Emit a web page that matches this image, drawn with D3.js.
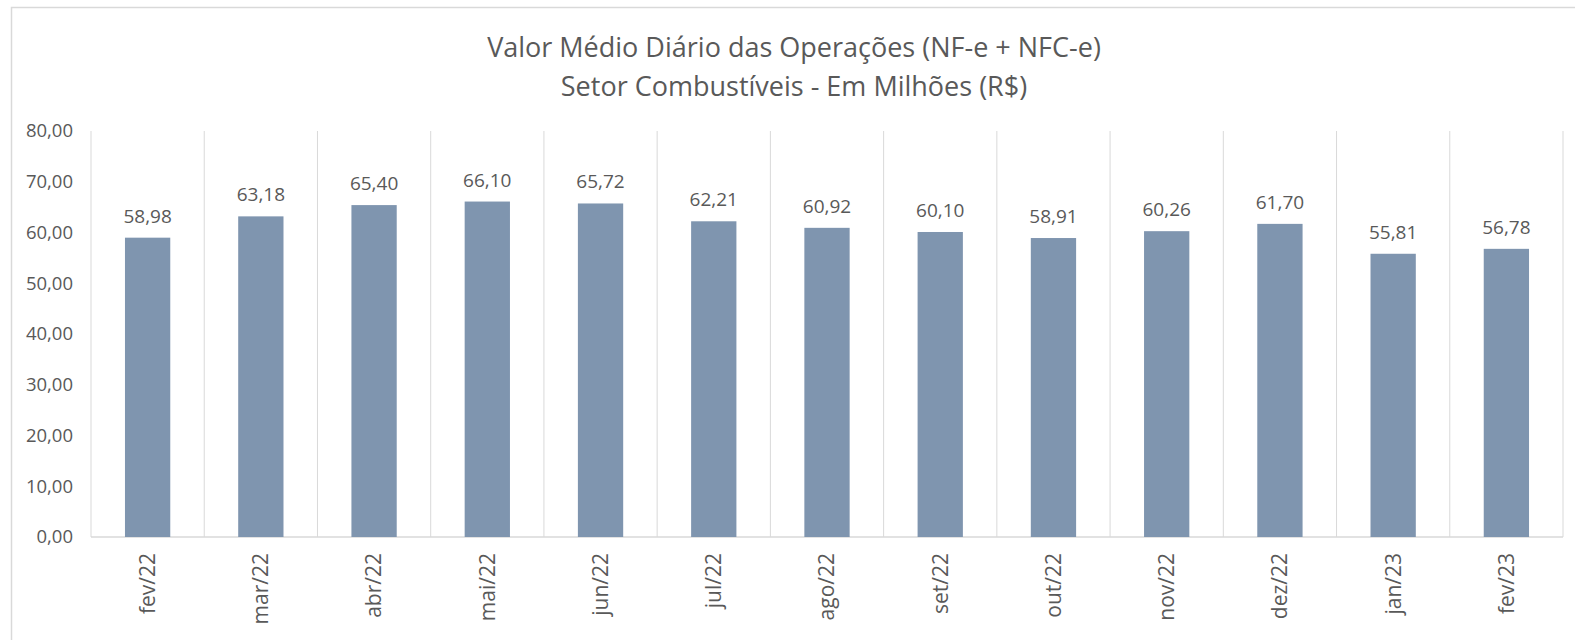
<!DOCTYPE html>
<html>
<head>
<meta charset="utf-8">
<script src="https://cdn.jsdelivr.net/npm/d3@7"></script>
<style>
  body { margin: 0; background: #fff; }
  text { font-family: "Open Sans", sans-serif; fill: #595959; }
</style>
</head>
<body>
<div id="chart"></div>
<script>
const months = ["fev/22", "mar/22", "abr/22", "mai/22", "jun/22", "jul/22", "ago/22",
                "set/22", "out/22", "nov/22", "dez/22", "jan/23", "fev/23"];
const values = [58.98, 63.18, 65.40, 66.10, 65.72, 62.21, 60.92, 60.10, 58.91, 60.26, 61.70, 55.81, 56.78];
const yTicks = [0, 10, 20, 30, 40, 50, 60, 70, 80];
const titleLines = ["Valor Médio Diário das Operações (NF-e + NFC-e)",
                    "Setor Combustíveis - Em Milhões (R$)"];

function init(){

    const width = 1575;
    const height = 640;
    const margin = {left: 91, right: 12, top: 131, bottom: 103};

    const svg = d3.select("#chart")
                .append("svg")
                .attr("width", width)
                .attr("height", height);

    //Outer chart border, runs off the right and bottom edges
    svg.append("rect")
        .attr("x", 11.5)
        .attr("y", 7.5)
        .attr("width", width)
        .attr("height", height)
        .attr("fill", "none")
        .attr("stroke", "#d9d9d9")
        .attr("stroke-width", 1.5);

    const x = d3.scaleBand()
                .domain(months)
                .range([margin.left, width - margin.right])
                .padding(0);

    const y = d3.scaleLinear()
                .domain([0, 80])
                .range([height - margin.bottom, margin.top]);

    const fmt = v => d3.format(".2f")(v).replace(".", ",");

    //Title
    svg.append("text")
        .attr("x", 794)
        .attr("y", 57)
        .attr("text-anchor", "middle")
        .attr("font-size", "27px")
        .selectAll("tspan")
        .data(titleLines)
        .enter().append("tspan")
        .attr("x", 794)
        .attr("dy", (d, i) => i === 0 ? 0 : 39)
        .text(d => d);

    //Vertical separators between categories
    const seps = months.map(m => x(m)).concat([x.range()[1]]);
    svg.selectAll(".sep")
        .data(seps)
        .enter().append("line")
        .attr("class", "sep")
        .attr("x1", d => d)
        .attr("x2", d => d)
        .attr("y1", y(80))
        .attr("y2", y(0))
        .attr("stroke", "#d9d9d9")
        .attr("stroke-width", 1);

    //Baseline
    svg.append("line")
        .attr("x1", x.range()[0])
        .attr("x2", x.range()[1])
        .attr("y1", y(0))
        .attr("y2", y(0))
        .attr("stroke", "#d9d9d9")
        .attr("stroke-width", 1.5);

    //Y axis labels
    const yAxis = d3.axisLeft(y)
                    .tickValues(yTicks)
                    .tickSize(0)
                    .tickPadding(18)
                    .tickFormat(fmt);

    const gy = svg.append("g")
        .attr("transform", `translate(${margin.left},0)`)
        .call(yAxis);
    gy.select(".domain").remove();
    gy.selectAll("text")
        .attr("font-size", "18.5px")
        .attr("font-family", "'Open Sans', sans-serif")
        .attr("fill", "#595959");

    //X axis labels, rotated
    const xAxis = d3.axisBottom(x).tickSize(0).tickPadding(0);
    const gx = svg.append("g")
        .attr("transform", `translate(0,${y(0)})`)
        .call(xAxis);
    gx.select(".domain").remove();
    gx.selectAll("text")
        .attr("font-size", "21px")
        .attr("font-family", "'Open Sans', sans-serif")
        .attr("fill", "#595959")
        .attr("text-anchor", "end")
        .attr("dy", "0.35em")
        .attr("transform", "translate(0,16) rotate(-90)")
        .attr("x", 0)
        .attr("y", 0);

    //Bars
    const barW = x.bandwidth() * 0.4;
    svg.selectAll(".bar")
        .data(values)
        .enter().append("rect")
        .attr("class", "bar")
        .attr("x", (d, i) => x(months[i]) + (x.bandwidth() - barW) / 2)
        .attr("y", d => y(d))
        .attr("width", barW)
        .attr("height", d => y(0) - y(d))
        .attr("fill", "#7f95af");

    //Value labels
    svg.selectAll(".lbl")
        .data(values)
        .enter().append("text")
        .attr("class", "lbl")
        .attr("x", (d, i) => x(months[i]) + x.bandwidth() / 2)
        .attr("y", d => y(d) - 15)
        .attr("text-anchor", "middle")
        .attr("font-size", "19px")
        .text(d => fmt(d));
}
window.onload = init;
</script>
</body>
</html>
